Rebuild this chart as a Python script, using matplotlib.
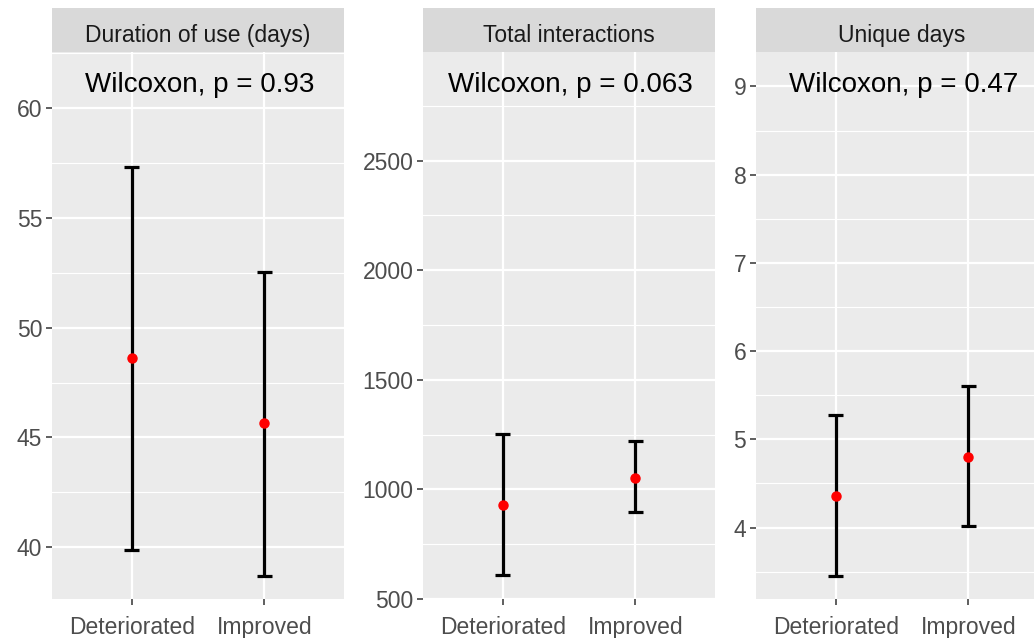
import matplotlib
matplotlib.use("Agg")
import matplotlib.pyplot as plt
from matplotlib.ticker import MultipleLocator

plt.rcParams['font.family'] = ['Liberation Sans', 'DejaVu Sans']

groups = ["Deteriorated", "Improved"]
panel_titles = ["Duration of use (days)", "Total interactions", "Unique days"]
p_labels = ["Wilcoxon, p = 0.93", "Wilcoxon, p = 0.063", "Wilcoxon, p = 0.47"]

duration_mean = [48.6, 45.65]
duration_low = [39.9, 38.7]
duration_high = [57.3, 52.55]

interactions_mean = [931, 1053]
interactions_low = [609, 898]
interactions_high = [1254, 1220]

days_mean = [4.36, 4.80]
days_low = [3.45, 4.02]
days_high = [5.28, 5.60]

means = [duration_mean, interactions_mean, days_mean]
lows = [duration_low, interactions_low, days_low]
highs = [duration_high, interactions_high, days_high]

ylims = [(37.65, 62.54), (500, 2995), (3.19, 9.39)]
major = [5, 500, 1]
yticks = [[40, 45, 50, 55, 60], [500, 1000, 1500, 2000, 2500], [4, 5, 6, 7, 8, 9]]

W, H = 1034, 638
fig = plt.figure(figsize=(W / 100, H / 100), dpi=100)

lefts = [52, 423, 756]
pw = 292
top, bottom = 52, 599
strip_top = 8

for i in range(3):
    ax = fig.add_axes([lefts[i] / W, (H - bottom) / H, pw / W, (bottom - top) / H])
    ax.set_facecolor("#EBEBEB")
    for s in ax.spines.values():
        s.set_visible(False)
    ax.set_xlim(0.4, 2.6)
    ax.set_ylim(*ylims[i])
    ax.set_xticks([1, 2])
    ax.set_xticklabels(groups)
    ax.set_yticks(yticks[i])
    ax.yaxis.set_minor_locator(MultipleLocator(major[i] / 2))
    ax.grid(True, which="major", color="white", linewidth=1.6)
    ax.grid(True, which="minor", axis="y", color="white", linewidth=0.8)
    ax.set_axisbelow(True)
    ax.tick_params(axis="both", which="major", length=4, width=1.1, color="#333333",
                   labelcolor="#4D4D4D", labelsize=16.5, pad=3)
    ax.tick_params(axis="y", which="minor", length=0)
    ax.tick_params(axis="x", pad=8)

    x = [1, 2]
    ax.vlines(x, lows[i], highs[i], color="black", linewidth=2.3, zorder=3)
    for xi, lo, hi in zip(x, lows[i], highs[i]):
        ax.hlines([lo, hi], xi - 0.055, xi + 0.055, color="black", linewidth=2.3, zorder=3)
    ax.plot(x, means[i], "o", color="#FF0000", markersize=6.5, zorder=4)

    ax.text(0.505, (bottom - 92) / (bottom - top), p_labels[i], transform=ax.transAxes,
            ha="center", va="baseline", fontsize=20, color="black")

    sax = fig.add_axes([lefts[i] / W, (H - top) / H, pw / W, (top - strip_top) / H])
    sax.set_facecolor("#D9D9D9")
    sax.set_xticks([])
    sax.set_yticks([])
    for s in sax.spines.values():
        s.set_visible(False)
    sax.text(0.5, (top - 42) / (top - strip_top), panel_titles[i], transform=sax.transAxes,
             ha="center", va="baseline", fontsize=16.5, color="#1A1A1A")

fig.savefig("out.png", dpi=100, facecolor="white")
